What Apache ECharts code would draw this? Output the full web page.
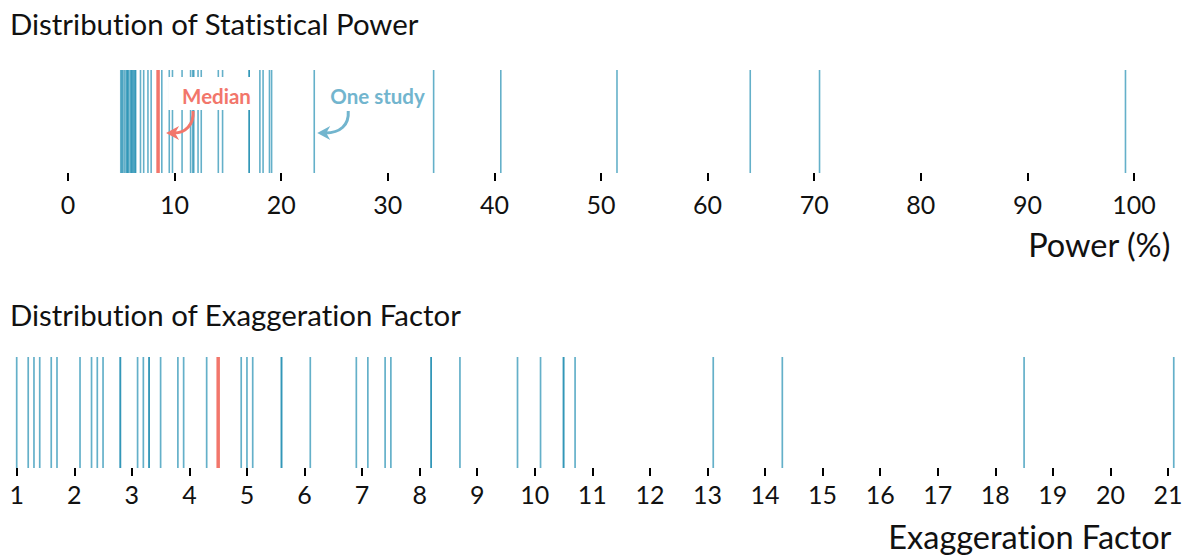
<!DOCTYPE html>
<html>
<head>
<meta charset="utf-8">
<script src="https://cdn.jsdelivr.net/npm/echarts@6/dist/echarts.min.js"></script>
<style>
html,body{margin:0;padding:0;background:#fff;}
#chart{width:1190px;height:555px;}
#chart text{font-variant-ligatures:none;font-feature-settings:"liga" 0, "clig" 0;}
</style>
</head>
<body>
<div id="chart"></div>
<script>
// ---- data ----
const powerValues = [4.95, 5.05, 5.15, 5.3, 5.45, 5.55, 5.6, 5.7, 5.85, 5.95, 6.0, 6.1, 6.2, 6.3, 6.35,
  6.8, 7.1, 7.5, 7.8, 8.8, 9.5, 9.8, 10.7, 11.5, 11.7, 11.8, 12.2, 12.5, 14.1, 14.5,
  17.0, 17.0, 18.0, 18.3, 18.9, 19.1, 23.1, 34.3, 40.6, 51.5, 64.0, 70.5, 99.2];
const powerMedian = 8.45;
const powerTicks = [0, 10, 20, 30, 40, 50, 60, 70, 80, 90, 100];

const exagValues = [1.0, 1.2, 1.3, 1.4, 1.6, 1.7, 2.1, 2.3, 2.4, 2.5, 2.8, 2.8, 3.1, 3.2, 3.3, 3.3,
  3.5, 3.8, 3.9, 4.3, 4.9, 5.0, 5.1, 5.6, 5.6, 6.1, 6.9, 7.1, 7.4, 7.5, 8.2, 8.2, 8.7,
  9.7, 10.1, 10.5, 10.5, 10.7, 13.1, 14.3, 18.5, 21.1];
const exagMedian = 4.5;
const exagTicks = [1, 2, 3, 4, 5, 6, 7, 8, 9, 10, 11, 12, 13, 14, 15, 16, 17, 18, 19, 20, 21];

const texts = {
  title1: 'Distribution of Statistical Power',
  title2: 'Distribution of Exaggeration Factor',
  axis1: 'Power (%)',
  axis2: 'Exaggeration Factor',
  median: 'Median',
  study: 'One study'
};

// ---- style ----
const FONT = 'Lato, "Noto Sans", sans-serif';
const LINE_COLOR = 'rgba(26,139,176,0.68)';
const MEDIAN_COLOR = '#F2766B';
const STUDY_COLOR = '#72B5CE';

function rug(color, width) {
  return function (params, api) {
    const x = api.value(0);
    const p0 = api.coord([x, 0]);
    const p1 = api.coord([x, 1]);
    return {
      type: 'line',
      shape: { x1: p0[0], y1: p0[1], x2: p1[0], y2: p1[1] },
      style: { stroke: color, lineWidth: width }
    };
  };
}

function xAxisDef(gridIndex, min, max, ticks, offset, margin) {
  return {
    type: 'value', gridIndex: gridIndex, min: min, max: max, interval: ticks[1] - ticks[0],
    offset: offset,
    splitLine: { show: false },
    axisLine: { show: false },
    axisTick: { show: true, length: 8, lineStyle: { color: '#000', width: 2 } },
    axisLabel: {
      fontFamily: FONT, fontSize: 25, color: '#111', margin: margin,
      customValues: ticks, showMinLabel: true, showMaxLabel: true
    }
  };
}

const chart = echarts.init(document.getElementById('chart'), null, { renderer: 'svg' });

const titleStyle = { fontFamily: FONT, fontSize: 29.4, fontWeight: 'normal', color: '#111' };
const nameStyle = { fontFamily: FONT, fontSize: 32.5, fontWeight: 'normal', color: '#111' };

const option = {
  backgroundColor: '#fff',
  animation: false,
  title: [
    { text: texts.title1, left: 10, top: 9, textStyle: titleStyle, padding: 0 },
    { text: texts.title2, left: 10, top: 300, textStyle: titleStyle, padding: 0 },
    { text: texts.axis1, right: 19, top: 228, textStyle: nameStyle, padding: 0 },
    { text: texts.axis2, right: 18, top: 520, textStyle: nameStyle, padding: 0 }
  ],
  grid: [
    { left: 68, right: 56, top: 70, height: 103 },
    { left: 16.7, right: 22, top: 357, height: 111 }
  ],
  xAxis: [
    xAxisDef(0, 0, 100, powerTicks, 5, 13),
    xAxisDef(1, 1, 21, exagTicks, 1, 12)
  ],
  yAxis: [
    { type: 'value', gridIndex: 0, min: 0, max: 1, show: false },
    { type: 'value', gridIndex: 1, min: 0, max: 1, show: false }
  ],
  series: [
    { type: 'custom', xAxisIndex: 0, yAxisIndex: 0, clip: false, renderItem: rug(LINE_COLOR, 1.6),
      encode: { x: 0 }, data: powerValues.map(v => [v]) },
    { type: 'custom', xAxisIndex: 0, yAxisIndex: 0, clip: false, renderItem: rug(MEDIAN_COLOR, 3.5),
      encode: { x: 0 }, data: [[powerMedian]], z: 3 },
    { type: 'custom', xAxisIndex: 1, yAxisIndex: 1, clip: false, renderItem: rug(LINE_COLOR, 1.7),
      encode: { x: 0 }, data: exagValues.map(v => [v]) },
    { type: 'custom', xAxisIndex: 1, yAxisIndex: 1, clip: false, renderItem: rug(MEDIAN_COLOR, 3.5),
      encode: { x: 0 }, data: [[exagMedian]], z: 3 }
  ]
};
chart.setOption(option);

// ---- annotations (placed relative to the data scale) ----
const medX = chart.convertToPixel({ xAxisIndex: 0 }, powerMedian);
const studyX = chart.convertToPixel({ xAxisIndex: 0 }, 23.1);

function arrow(x0, y0, tipX, tipY, color) {
  return [
    { type: 'bezierCurve', z: 10,
      shape: { x1: x0, y1: y0, cpx1: x0 + 1, cpy1: y0 + 14, cpx2: x0 - 8, cpy2: tipY, x2: tipX + 8, y2: tipY },
      style: { stroke: color, lineWidth: 3, fill: null } },
    { type: 'polygon', z: 10,
      shape: { points: [[tipX, tipY], [tipX + 13, tipY - 7], [tipX + 9, tipY], [tipX + 13, tipY + 7]] },
      style: { fill: color } }
  ];
}

chart.setOption({
  graphic: [
    { type: 'rect', z: 9, shape: { x: medX + 10, y: 77, width: 85, height: 33 }, style: { fill: '#fff' } },
    { type: 'text', z: 10, x: medX + 24, y: 96,
      style: { text: texts.median, fill: MEDIAN_COLOR, font: 'bold 20.5px ' + FONT, textVerticalAlign: 'middle', verticalAlign: 'middle' } },
    { type: 'text', z: 10, x: studyX + 16, y: 96,
      style: { text: texts.study, fill: STUDY_COLOR, font: 'bold 20.5px ' + FONT, textVerticalAlign: 'middle', verticalAlign: 'middle' } }
  ].concat(arrow(medX + 35, 111, medX + 8, 133, MEDIAN_COLOR))
   .concat(arrow(studyX + 34, 111, studyX + 3, 133, STUDY_COLOR))
});
</script>
</body>
</html>
